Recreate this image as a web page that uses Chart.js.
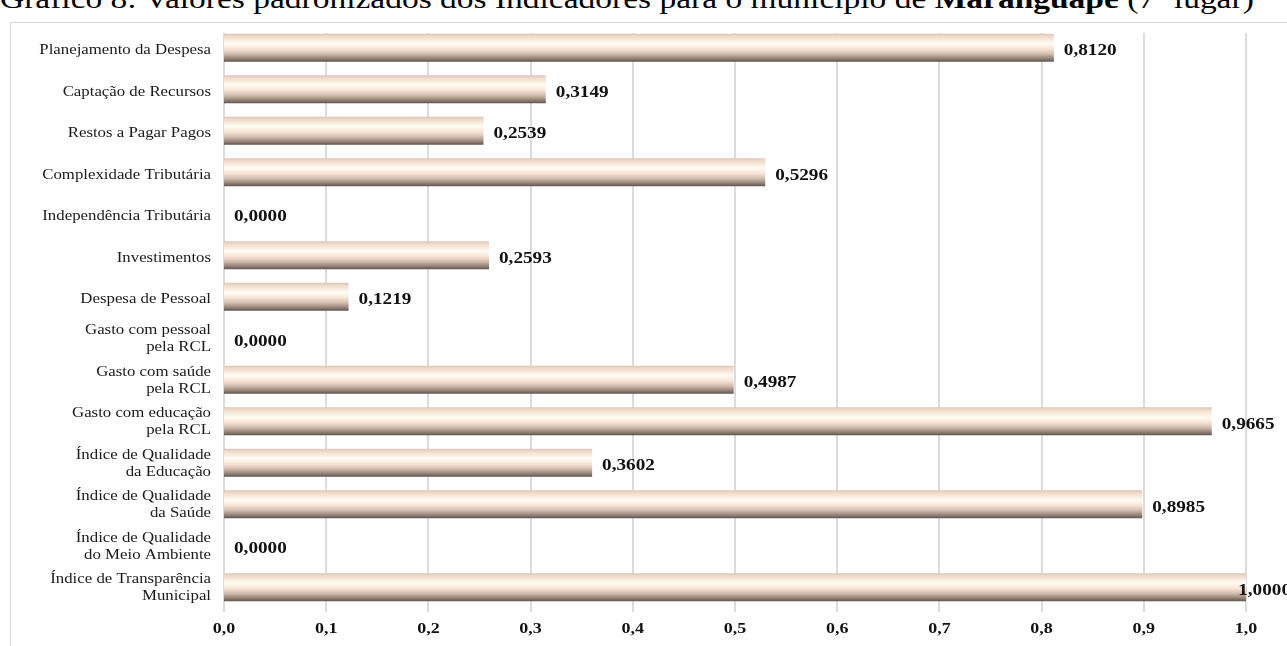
<!DOCTYPE html>
<html lang="pt-BR">
<head>
<meta charset="utf-8">
<title>Gráfico 8 - Maranguape</title>
<script src="https://cdn.jsdelivr.net/npm/chart.js@4.4.1/dist/chart.umd.min.js"></script>
<style>
  html, body { margin: 0; padding: 0; background: #ffffff; overflow: hidden; }
  #wrap { position: relative; width: 1287px; height: 646px; overflow: hidden; }
  #titulo {
    position: absolute; left: 0; top: -14px; white-space: nowrap;
    font-family: "Liberation Serif", "Times New Roman", serif;
    font-size: 27px; line-height: 27px; color: #000;
    transform: scaleX(1.24); transform-origin: 0 0;
  }
  #moldura {
    position: absolute; left: 10px; top: 22px; width: 1290px; height: 640px;
    border-left: 1.5px solid #d9d9d9; border-top: 1.5px solid #d9d9d9;
    box-sizing: border-box;
  }
  canvas { position: absolute; left: 0; top: 0; }
</style>
</head>
<body>
<div id="wrap">
  <div id="titulo">Gráfico 8: Valores padronizados dos Indicadores para o município de <b>Maranguape</b> (7º lugar)</div>
  <div id="moldura"></div>
  <canvas id="grafico" width="1287" height="646"></canvas>
</div>
<script>
// Indicadores (de cima para baixo)
const indicadores = [
  "Planejamento da Despesa",
  "Captação de Recursos",
  "Restos a Pagar Pagos",
  "Complexidade Tributária",
  "Independência Tributária",
  "Investimentos",
  "Despesa de Pessoal",
  ["Gasto com pessoal", "pela RCL"],
  ["Gasto com saúde", "pela RCL"],
  ["Gasto com educação", "pela RCL"],
  ["Índice de Qualidade", "da Educação"],
  ["Índice de Qualidade", "da Saúde"],
  ["Índice de Qualidade", "do Meio Ambiente"],
  ["Índice de Transparência", "Municipal"]
];

// Valores padronizados
const valores = [0.8120, 0.3149, 0.2539, 0.5296, 0.0000, 0.2593, 0.1219,
                 0.0000, 0.4987, 0.9665, 0.3602, 0.8985, 0.0000, 1.0000];

// Marcas do eixo horizontal
const marcasX = [0, 0.1, 0.2, 0.3, 0.4, 0.5, 0.6, 0.7, 0.8, 0.9, 1.0];

const FONTE = '"Liberation Serif", "Times New Roman", serif';
const PROPORCAO_BARRA = 0.68;
const ESTICAR = 1.2;        // texto levemente alargado na horizontal
const LIMITE_DIREITO = 1291; // borda direita da área do gráfico (rótulos não passam dela)

const virgula = (v, casas) => v.toFixed(casas).replace('.', ',');

// Escreve um texto alargado horizontalmente, alinhado à esquerda, centro ou direita
function textoLargo(c, txt, x, y, alinhamento) {
  const w = c.measureText(txt).width * ESTICAR;
  let x0 = x;
  if (alinhamento === 'right') x0 = x - w;
  else if (alinhamento === 'center') x0 = x - w / 2;
  c.save();
  c.translate(x0, y);
  c.scale(ESTICAR, 1);
  c.textAlign = 'left';
  c.fillText(txt, 0, 0);
  c.restore();
}

// Degradê cilíndrico de cada barra (claro no meio, escuro embaixo)
function degradeBarra(ctx) {
  const chart = ctx.chart;
  const area = chart.chartArea;
  if (!area) return '#f3dccb';
  const yc = chart.scales.y.getPixelForValue(ctx.dataIndex);
  const meia = (area.bottom - area.top) / indicadores.length * PROPORCAO_BARRA / 2;
  const g = chart.ctx.createLinearGradient(0, yc - meia, 0, yc + meia);
  g.addColorStop(0.00, '#d6c6bd');
  g.addColorStop(0.10, '#f1dac8');
  g.addColorStop(0.35, '#fffcf3');
  g.addColorStop(0.55, '#f6e3d4');
  g.addColorStop(0.72, '#d2bcad');
  g.addColorStop(0.88, '#958479');
  g.addColorStop(1.00, '#5e514c');
  return g;
}

// Linhas de grade verticais (um pouco deslocadas para baixo em relação à área das barras)
const grade = {
  id: 'grade',
  beforeDatasetsDraw(chart) {
    const c = chart.ctx;
    const x = chart.scales.x;
    const topo = chart.chartArea.top + 6;
    const base = chart.chartArea.bottom + 4;
    c.save();
    c.strokeStyle = '#d9d9d9';
    c.lineWidth = 1.8;
    marcasX.forEach(v => {
      const px = Math.round(x.getPixelForValue(v));
      c.beginPath();
      c.moveTo(px, topo);
      c.lineTo(px, base);
      c.stroke();
    });
    c.restore();
  }
};

// Rótulos dos eixos e valores das barras
const textos = {
  id: 'textos',
  afterDatasetsDraw(chart) {
    const c = chart.ctx;
    const xs = chart.scales.x;
    const ys = chart.scales.y;
    const meta = chart.getDatasetMeta(0);
    c.save();
    c.textBaseline = 'middle';

    // nomes dos indicadores
    c.font = '14px ' + FONTE;
    c.fillStyle = '#1a1a1a';
    indicadores.forEach((rot, i) => {
      const linhas = Array.isArray(rot) ? rot : [rot];
      const yc = ys.getPixelForValue(i) + (linhas.length > 1 ? 1 : 3);
      const alt = 17;
      linhas.forEach((l, j) => {
        textoLargo(c, l, 211, yc - (linhas.length - 1) * alt / 2 + j * alt, 'right');
      });
    });

    // valores ao lado das barras (recuados quando não cabem à direita)
    c.font = 'bold 16px ' + FONTE;
    c.fillStyle = '#111';
    meta.data.forEach((el, i) => {
      const txt = virgula(valores[i], 4);
      const w = c.measureText(txt).width * ESTICAR;
      const x = Math.min(el.x + 10, LIMITE_DIREITO - w);
      textoLargo(c, txt, x, el.y + 3.5, 'left');
    });

    // marcas do eixo x
    c.font = 'bold 15px ' + FONTE;
    marcasX.forEach(v => {
      textoLargo(c, virgula(v, 1), xs.getPixelForValue(v), 629, 'center');
    });
    c.restore();
  }
};

new Chart(document.getElementById('grafico'), {
  type: 'bar',
  data: {
    labels: indicadores,
    datasets: [{
      data: valores,
      backgroundColor: degradeBarra,
      borderWidth: 0,
      barPercentage: PROPORCAO_BARRA,
      categoryPercentage: 1
    }]
  },
  options: {
    indexAxis: 'y',
    responsive: false,
    animation: false,
    layout: { padding: { top: 27, right: 41, left: 0, bottom: 0 } },
    plugins: { legend: { display: false }, tooltip: { enabled: false }, title: { display: false } },
    scales: {
      x: {
        min: 0, max: 1,
        afterBuildTicks(scale) { scale.ticks = marcasX.map(v => ({ value: v })); },
        afterFit(scale) { scale.height = 38; },
        grid: { display: false, drawTicks: false },
        border: { display: false },
        ticks: { display: false }
      },
      y: {
        afterFit(scale) { scale.width = 224; },
        grid: { display: false, drawTicks: false },
        border: { display: false },
        ticks: { display: false }
      }
    }
  },
  plugins: [grade, textos]
});
</script>
</body>
</html>
